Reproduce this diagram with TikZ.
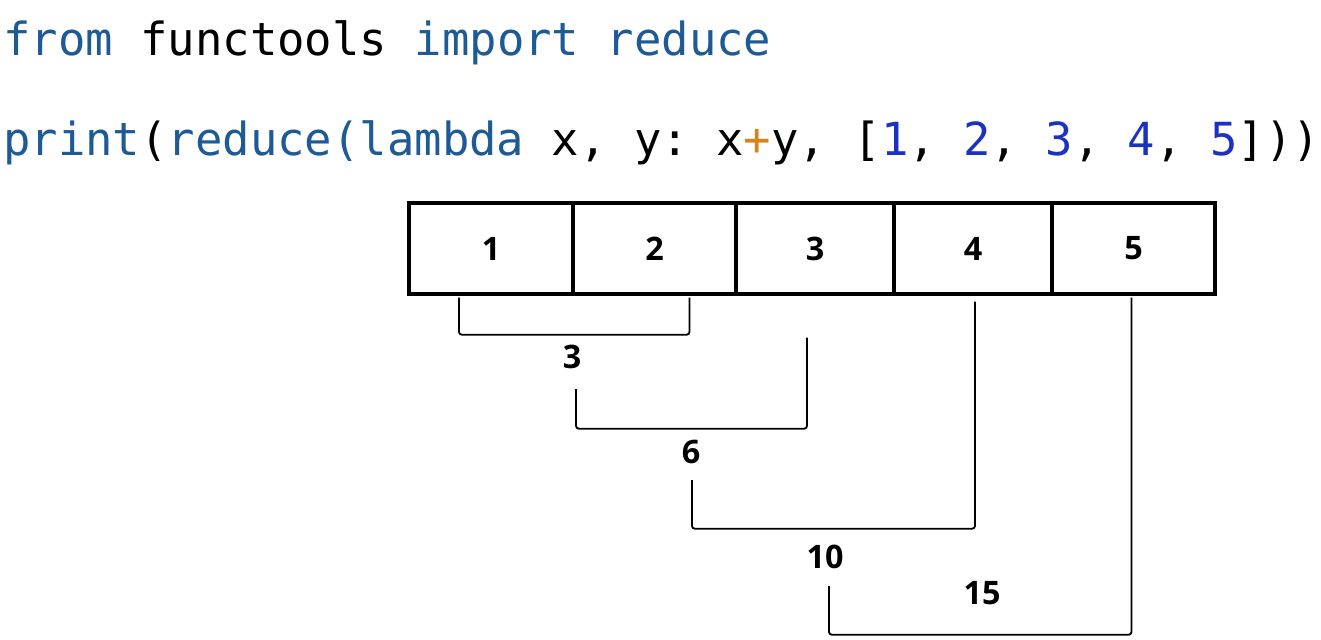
\documentclass[tikz,border=0pt]{standalone}
\usepackage{fontspec}
\setmonofont{DejaVu Sans Mono}
\setsansfont{Open Sans}
\usetikzlibrary{calc}
\definecolor{kw}{HTML}{1D5A96}
\definecolor{num}{HTML}{1B32C0}
\definecolor{op}{HTML}{D9821A}
\begin{document}
\begin{tikzpicture}[x=0.025cm,y=-0.025cm,
  code/.style={anchor=base west,inner sep=0,font=\ttfamily\fontsize{32.4}{36}\selectfont},
  cell/.style={draw,line width=2.4pt,minimum height=2.275cm,inner sep=0,font=\sffamily\bfseries\fontsize{23}{26}\selectfont},
  sum/.style={inner sep=0,font=\sffamily\bfseries\fontsize{23}{26}\selectfont},
  link/.style={line width=1.3pt,rounded corners=2pt}]
\useasboundingbox (0,0) rectangle (1321,639);
\node[code] (l1) at (3,55) {\textcolor{kw}{from} functools \textcolor{kw}{import reduce}};
\node[code] (l2) at (3,155) {\textcolor{kw}{print}(\textcolor{kw}{reduce(lambda} x, y: x\textcolor{op}{+}y, [\textcolor{num}{1}, \textcolor{num}{2}, \textcolor{num}{3}, \textcolor{num}{4}, \textcolor{num}{5}]))};
\node[cell,minimum width=4.1cm] (c1) at (491,248.5) {1};
\node[cell,minimum width=4.075cm] (c2) at (654.5,248.5) {2};
\node[cell,minimum width=3.95cm] (c3) at (815,248.5) {3};
\node[cell,minimum width=3.95cm] (c4) at (973,248.5) {4};
\node[cell,minimum width=4.075cm] (c5) at (1133.5,248.5) {5};
\node[sum] (s3) at (572,357) {3};
\node[sum] (s6) at (691,452) {6};
\node[sum] (s10) at (825,557) {10};
\node[sum] (s15) at (982,593) {15};
\draw[link] ($(c1.south)+(-32,2)$) |- ($(c2.south)+(35,39)$) -- ($(c2.south)+(35,2)$);
\draw[link] ($(s3.south)+(4,20)$) |- ($(c3.south)+(-8,133)$) -- ($(c3.south)+(-8,42)$);
\draw[link] ($(s6.south)+(1,16)$) |- ($(c4.south)+(2,233)$) -- ($(c4.south)+(2,6)$);
\draw[link] ($(s10.south)+(4,17)$) |- ($(c5.south)+(-2,339)$) -- ($(c5.south)+(-2,2)$);
\end{tikzpicture}
\end{document}
